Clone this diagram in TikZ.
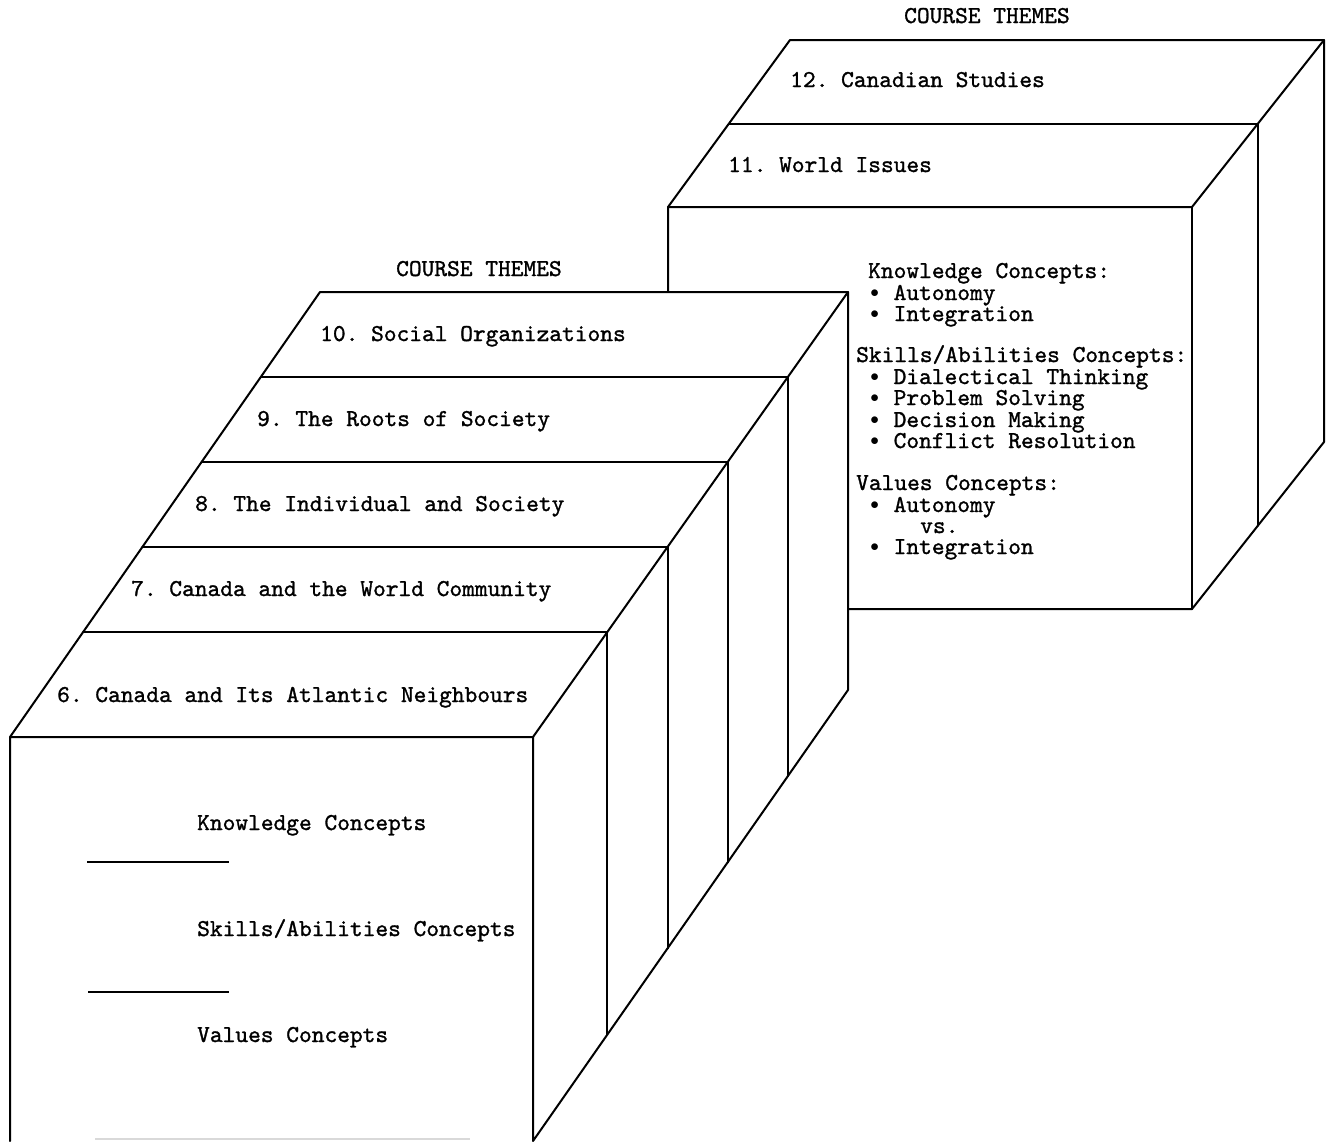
\documentclass[tikz,border=0pt]{standalone}
\usepackage{fontspec}
\usetikzlibrary{calc}
\newfontfamily\tw[FakeBold=1.2]{lmmono10-regular.otf}
\newcommand{\bul}{\makebox[0.525em]{\raisebox{0.1em}{$\scriptstyle\bullet$}}}
\begin{document}
\frenchspacing
\begin{tikzpicture}[x=1pt,y=-1pt,
  edge/.style={line width=2pt,line join=round,line cap=round},
  lbl/.style={anchor=base west,inner sep=0pt,text height=13pt,text depth=4pt,
              font=\tw\fontsize{24.25}{21.4}\selectfont},
  sep/.style={line width=2.4pt},
]
\useasboundingbox (0,0) rectangle (1328,1141);
% ---------- right (back) box ----------
\coordinate (P1) at (790,40);
\coordinate (P2) at (1324,40);
\coordinate (Q1) at (668,207);
\coordinate (Q2) at (1192,207);
\coordinate (Q3) at (1192,609);
\coordinate (Q4) at (668,609);
\coordinate (R)  at (1324,442);
\fill[white] (Q1)--(P1)--(P2)--(R)--(Q3)--(Q4)--cycle;
\draw[edge] (Q4)--(Q1)--(P1)--(P2)--(R)--(Q3)--cycle;
\draw[edge] (Q1)--(Q2)--(P2);
\draw[edge] (Q2)--(Q3);
\draw[edge] ($(Q1)!0.5!(P1)$) -- ($(Q2)!0.5!(P2)$) -- ($(Q3)!0.5!(R)$);
% ---------- left (front) box ----------
\coordinate (A) at (10,737);
\coordinate (B) at (320,292);
\coordinate (C) at (848,292);
\coordinate (D) at (533,737);
\coordinate (E) at (533,1141);
\coordinate (F) at (848,690);
\coordinate (G) at (10,1141);
\fill[white] (A)--(B)--(C)--(F)--(E)--(G)--cycle;
\draw[edge] (G)--(A)--(B)--(C)--(F)--(E)--(D)--(A);
\draw[edge] (D)--(C);
\foreach \t in {0.236,0.427,0.618,0.809}
  \draw[edge] ($(A)!\t!(B)$) -- ($(D)!\t!(C)$) -- ($(E)!\t!(F)$);
\draw[black!15,line width=1.5pt] (95,1139) -- (470,1139);
% separators on the front face
\coordinate (s1a) at (87,862);  \coordinate (s1b) at (229,862);
\coordinate (s2a) at (88,992);  \coordinate (s2b) at (229,992);
\draw[sep] (s1a) -- (s1b);
\draw[sep] (s2a) -- (s2b);
% ---------- texts ----------
\node[lbl] (ctR) at (904,23) {COURSE THEMES};
\node[lbl] (ctL) at (396,276) {COURSE THEMES};
\node[lbl] (t12) at (790,87) {12. Canadian Studies};
\node[lbl] (t11) at (728,172) {11. World Issues};
\node[lbl] (t10) at (320,341) {10. Social Organizations};
\node[lbl] (t9)  at (257,426) {9. The Roots of Society};
\node[lbl] (t8)  at (195,511) {8. The Individual and Society};
\node[lbl] (t7)  at (131,596) {7. Canada and the World Community};
\node[lbl] (t6)  at (57,702)  {6. Canada and Its Atlantic Neighbours};
\node[lbl] (fk) at (197,830)  {Knowledge Concepts};
\node[lbl] (fs) at (197,936)  {Skills/Abilities Concepts};
\node[lbl] (fv) at (197,1042) {Values Concepts};
% right box concept list
\node[lbl] (rk)  at (868,278) {Knowledge Concepts:};
\node[lbl] (rk1) at (868,300) {\bul{} Autonomy};
\node[lbl] (rk2) at (868,321) {\bul{} Integration};
\node[lbl] (rs)  at (856,362) {Skills/Abilities Concepts:};
\node[lbl] (rs1) at (868,384) {\bul{} Dialectical Thinking};
\node[lbl] (rs2) at (868,405) {\bul{} Problem Solving};
\node[lbl] (rs3) at (868,427) {\bul{} Decision Making};
\node[lbl] (rs4) at (868,448) {\bul{} Conflict Resolution};
\node[lbl] (rv)  at (856,490) {Values Concepts:};
\node[lbl] (rv1) at (868,512) {\bul{} Autonomy};
\node[lbl] (rvs) at (920,533) {vs.};
\node[lbl] (rv2) at (868,554) {\bul{} Integration};
\end{tikzpicture}
\end{document}
